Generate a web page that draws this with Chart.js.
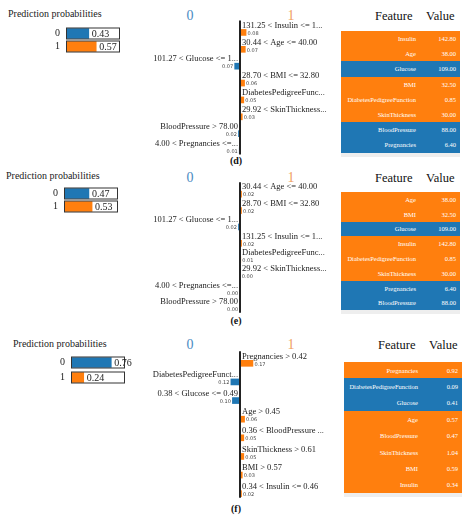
<!DOCTYPE html>
<html>
<head>
<meta charset="utf-8">
<script src="https://cdn.jsdelivr.net/npm/chart.js@4/dist/chart.umd.min.js"></script>
<style>
  body { margin: 0; background: #fff; font-family: "Liberation Serif", serif; }
  #page { position: relative; width: 474px; height: 518px; overflow: hidden; }
  .abs { position: absolute; }
  .ttl { font-size: 10px; color: #222; }
  .cls { font-size: 14px; }
  .hdr { font-size: 12.5px; color: #111; }
  .tag { font-size: 10px; font-weight: bold; color: #111; }
  .tbl { position: absolute; }
  .tbl .row { display: flex; color: #fff; font-size: 6.5px; align-items: center; }
  .tbl .f { flex: 1; text-align: right; padding-right: 6px; }
  .tbl .v { width: 34px; text-align: right; padding-right: 4px; }
  .tbl .bar { height: 4px; background: #eee; }
</style>
</head>
<body>
<div id="page"></div>
<script>
// Colores LIME
const BLUE = '#1f77b4';
const ORANGE = '#ff7f0e';

// Panel (d)
const probsD = [0.43, 0.57];
const labelsD = ['131.25 < Insulin <= 1...', '30.44 < Age <= 40.00', '101.27 < Glucose <= 1...', '28.70 < BMI <= 32.80',
  'DiabetesPedigreeFunc...', '29.92 < SkinThickness...', 'BloodPressure > 78.00', '4.00 < Pregnancies <=...'];
const weightsD = [0.08, 0.07, -0.07, 0.06, 0.05, 0.03, -0.02, -0.01];
const featD = ['Insulin', 'Age', 'Glucose', 'BMI', 'DiabetesPedigreeFunction', 'SkinThickness', 'BloodPressure', 'Pregnancies'];
const valD = ['142.80', '38.00', '109.00', '32.50', '0.85', '30.00', '88.00', '6.40'];

// Panel (e)
const probsE = [0.47, 0.53];
const labelsE = ['30.44 < Age <= 40.00', '28.70 < BMI <= 32.80', '101.27 < Glucose <= 1...', '131.25 < Insulin <= 1...',
  'DiabetesPedigreeFunc...', '29.92 < SkinThickness...', '4.00 < Pregnancies <=...', 'BloodPressure > 78.00'];
const weightsE = [0.02, 0.02, -0.02, 0.02, 0.01, 0.004, -0.004, -0.004];
const featE = ['Age', 'BMI', 'Glucose', 'Insulin', 'DiabetesPedigreeFunction', 'SkinThickness', 'Pregnancies', 'BloodPressure'];
const valE = ['38.00', '32.50', '109.00', '142.80', '0.85', '30.00', '6.40', '88.00'];

// Panel (f)
const probsF = [0.76, 0.24];
const labelsF = ['Pregnancies > 0.42', 'DiabetesPedigreeFunct...', '0.38 < Glucose <= 0.49', 'Age > 0.45',
  '0.36 < BloodPressure ...', 'SkinThickness > 0.61', 'BMI > 0.57', '0.34 < Insulin <= 0.46'];
const weightsF = [0.17, -0.12, -0.10, 0.06, 0.05, 0.05, 0.03, 0.02];
const featF = ['Pregnancies', 'DiabetesPedigreeFunction', 'Glucose', 'Age', 'BloodPressure', 'SkinThickness', 'BMI', 'Insulin'];
const valF = ['0.92', '0.09', '0.41', '0.57', '0.47', '1.04', '0.59', '0.34'];

const page = document.getElementById('page');

function addText(cls, txt, x, y, color, align) {
    const d = document.createElement('div');
    d.className = 'abs ' + cls;
    d.textContent = txt;
    d.style.left = x + 'px';
    d.style.top = y + 'px';
    if (color) d.style.color = color;
    if (align === 'center') d.style.transform = 'translateX(-50%)';
    page.appendChild(d);
}

function addCanvas(x, y, w, h) {
    const c = document.createElement('canvas');
    c.className = 'abs';
    c.style.left = x + 'px';
    c.style.top = y + 'px';
    c.style.width = w + 'px';
    c.style.height = h + 'px';
    c.width = w; c.height = h;
    page.appendChild(c);
    return c;
}

// Gráfico de probabilidades de predição
function createProbChart(probs, boxLeft, row0, spacing) {
    const padL = 14, boxW = 53, padR = 26, padT = 2;
    const h = spacing * 2 + 4;
    const canvas = addCanvas(boxLeft - padL, row0 - spacing / 2 - padT, padL + boxW + padR, h);
    new Chart(canvas.getContext('2d'), {
        type: 'bar',
        data: {
            labels: ['0', '1'],
            datasets: [{ data: probs, backgroundColor: [BLUE, ORANGE], barThickness: 10 }]
        },
        options: {
            indexAxis: 'y', responsive: false, animation: false, events: [],
            layout: { padding: { left: padL, right: padR, top: padT, bottom: 2 } },
            plugins: { legend: { display: false }, tooltip: { enabled: false } },
            scales: { x: { display: false, min: 0, max: 1 }, y: { display: false } }
        },
        plugins: [{
            id: 'probBox',
            afterDatasetsDraw(chart) {
                const ctx = chart.ctx;
                const xs = chart.scales.x;
                const meta = chart.getDatasetMeta(0);
                ctx.save();
                ctx.font = '10px "Liberation Serif"';
                ctx.textBaseline = 'middle';
                meta.data.forEach((bar, i) => {
                    const x0 = xs.getPixelForValue(0), x1 = xs.getPixelForValue(1);
                    ctx.strokeStyle = '#333';
                    ctx.lineWidth = 1;
                    ctx.strokeRect(x0 + 0.5, bar.y - 5.5, x1 - x0, 11);
                    ctx.fillStyle = '#222';
                    ctx.textAlign = 'right';
                    ctx.fillText(String(i), x0 - 6, bar.y);
                    ctx.textAlign = 'left';
                    ctx.fillText(probs[i].toFixed(2), bar.x + 3, bar.y + 0.5);
                });
                ctx.restore();
            }
        }]
    });
}

// Gráfico de pesos das features
function createExplChart(labels, weights, firstBar, spacing) {
    const padT = 10, padB = 3, left = 150, zeroOff = 90, w = 200;
    const h = padT + spacing * 8 + padB;
    const canvas = addCanvas(left, firstBar - spacing / 2 - padT, w, h);
    const perUnit = 76;
    new Chart(canvas.getContext('2d'), {
        type: 'bar',
        data: {
            labels: labels,
            datasets: [{
                data: weights,
                backgroundColor: weights.map(v => v >= 0 ? ORANGE : BLUE),
                barThickness: 6
            }]
        },
        options: {
            indexAxis: 'y', responsive: false, animation: false, events: [],
            layout: { padding: { left: 0, right: 0, top: padT, bottom: padB } },
            plugins: { legend: { display: false }, tooltip: { enabled: false } },
            scales: {
                x: { display: false, min: -zeroOff / perUnit, max: (w - zeroOff) / perUnit },
                y: { display: false }
            }
        },
        plugins: [{
            id: 'limeLabels',
            afterDatasetsDraw(chart) {
                const ctx = chart.ctx;
                const zx = chart.scales.x.getPixelForValue(0);
                const meta = chart.getDatasetMeta(0);
                ctx.save();
                ctx.textBaseline = 'middle';
                meta.data.forEach((bar, i) => {
                    const v = weights[i];
                    ctx.fillStyle = '#222';
                    ctx.font = '8.5px "Liberation Serif"';
                    ctx.textAlign = v >= 0 ? 'left' : 'right';
                    ctx.fillText(labels[i], v >= 0 ? zx + 2 : zx - 2, bar.y - 7);
                    ctx.font = '5px "DejaVu Sans"';
                    ctx.fillStyle = '#444';
                    ctx.fillText(Math.abs(v).toFixed(2), v >= 0 ? bar.x + 1.5 : bar.x - 1.5, bar.y + 1);
                });
                const top = meta.data[0].y - 12, bot = meta.data[7].y + 4;
                ctx.strokeStyle = '#222';
                ctx.lineWidth = 2;
                ctx.beginPath();
                ctx.moveTo(zx, top);
                ctx.lineTo(zx, bot);
                ctx.stroke();
                ctx.restore();
            }
        }]
    });
}

function createTable(feats, vals, x, y, w, rowH, colors) {
    const t = document.createElement('div');
    t.className = 'tbl';
    t.style.left = x + 'px';
    t.style.top = y + 'px';
    t.style.width = w + 'px';
    feats.forEach((f, i) => {
        const r = document.createElement('div');
        r.className = 'row';
        r.style.height = rowH + 'px';
        r.style.background = colors[i] === 'b' ? BLUE : ORANGE;
        r.innerHTML = '<span class="f">' + f + '</span><span class="v">' + vals[i] + '</span>';
        t.appendChild(r);
    });
    const s = document.createElement('div');
    s.className = 'bar';
    t.appendChild(s);
    page.appendChild(t);
}

function createPanel(p) {
    addText('ttl', 'Prediction probabilities', p.titleX, p.titleY);
    addText('cls', '0', 190, p.clsY, '#4a8bc2', 'center');
    addText('cls', '1', 291, p.clsY, '#f0a060', 'center');
    addText('hdr', 'Feature', p.tx + 34, p.clsY + 1);
    addText('hdr', 'Value', p.tx + 85, p.clsY + 1);
    addText('tag', p.tag, 236, p.tagY, null, 'center');
    createProbChart(p.probs, p.boxLeft, p.row0, p.pSpacing);
    createExplChart(p.labels, p.weights, p.firstBar, p.spacing);
    createTable(p.feats, p.vals, p.tx, p.ty, p.tw, p.rowH, p.colors);
}

createPanel({ titleX: 8, titleY: 8, clsY: 8, tag: '(d)', tagY: 155, probs: probsD, boxLeft: 66, row0: 33, pSpacing: 13,
    labels: labelsD, weights: weightsD, firstBar: 32, spacing: 16.9,
    feats: featD, vals: valD, tx: 341, ty: 31, tw: 119, rowH: 15.2, colors: 'oobooobb' });
createPanel({ titleX: 6, titleY: 170, clsY: 170, tag: '(e)', tagY: 315, probs: probsE, boxLeft: 64, row0: 193, pSpacing: 13,
    labels: labelsE, weights: weightsE, firstBar: 194, spacing: 16.4,
    feats: featE, vals: valE, tx: 341, ty: 192, tw: 119, rowH: 14.8, colors: 'oobooobb' });
createPanel({ titleX: 13, titleY: 338, clsY: 337, tag: '(f)', tagY: 503, probs: probsF, boxLeft: 71, row0: 362, pSpacing: 15,
    labels: labelsF, weights: weightsF, firstBar: 363, spacing: 18.7,
    feats: featF, vals: valF, tx: 344, ty: 362, tw: 118, rowH: 16.4, colors: 'obbooooo' });
</script>
</body>
</html>
